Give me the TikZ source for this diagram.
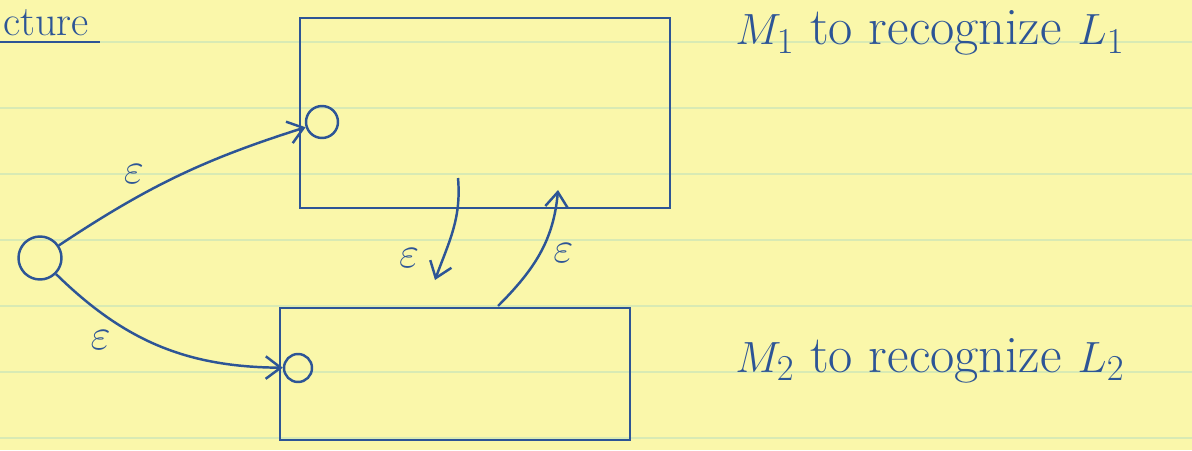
\documentclass[tikz,border=0pt]{standalone}
\usepackage{tikz}
\usetikzlibrary{arrows.meta}

\definecolor{paper}{RGB}{250,247,170}
\definecolor{ruling}{RGB}{216,234,180}
\definecolor{pen}{RGB}{45,85,150}

\begin{document}
\begin{tikzpicture}[
        x=0.02cm, y=0.02cm,
        box/.style={draw=pen, line width=1.4pt, inner sep=0pt},
        state/.style={draw=pen, line width=1.4pt, circle, inner sep=0pt},
        arr/.style={-{Straight Barb[length=3mm,width=4.5mm]}, line width=1.4pt, draw=pen},
        lbl/.style={text=pen, font=\fontsize{30}{32}\selectfont, inner sep=1pt},
        note/.style={text=pen, font=\fontsize{30}{33}\selectfont, inner sep=0pt, anchor=base west},
    ]
        % paper
        \fill[paper] (0,0) rectangle (1192,450);
        \useasboundingbox (0,0) rectangle (1192,450);
        \foreach \y in {12,78,144,210,276,342,408}
            \draw[ruling, line width=0.8pt] (0,\y) -- (1192,\y);

        \node[note, font=\fontsize{24}{28}\selectfont] (title) at (3,414) {cture};
        \draw[pen, line width=1.6pt] (0,408) -- (100,408);

        % the two machines
        \node[box, minimum width=7.4cm, minimum height=3.8cm] (m1) at (485,337) {};
        \node[box, minimum width=7cm, minimum height=2.64cm] (m2) at (455,76) {};
        \node[state, minimum size=0.86cm] (s) at (40,192) {};
        \node[state, minimum size=0.64cm] (q1) at (322,328) {};
        \node[state, minimum size=0.56cm] (q2) at (298,82) {};

        \node[note] (t1) at (735,405) {$M_1$ to recognize $L_1$};
        \node[note] (t2) at (735,78) {$M_2$ to recognize $L_2$};

        % epsilon moves
        \coordinate (d1) at (458,272);
        \coordinate (d2) at (435,170);
        \coordinate (u1) at (498,144);
        \coordinate (u2) at (558,260);
        \draw[arr] (s) to[bend left=8] node[lbl, pos=0.38, above left=2pt] {$\varepsilon$} (q1);
        \draw[arr] (s) to[bend right=22] node[lbl, pos=0.3, below left=2pt] {$\varepsilon$} (q2);
        \draw[arr] (d1) to[out=-85, in=70] node[lbl, pos=0.8, left=12pt] {$\varepsilon$} (d2);
        \draw[arr] (u1) to[out=45, in=-95] node[lbl, pos=0.5, right=6pt] {$\varepsilon$} (u2);
    \end{tikzpicture}
\end{document}
